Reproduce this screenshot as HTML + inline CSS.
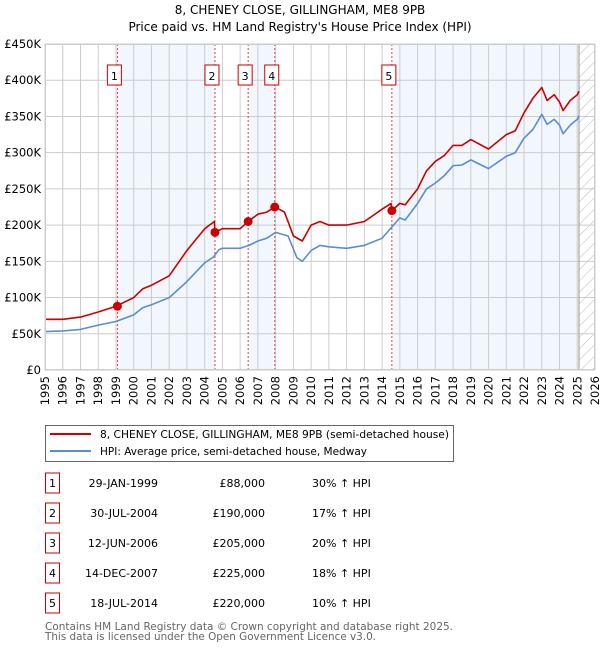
<!DOCTYPE html>
<html><head><meta charset="utf-8"><style>
body{margin:0;background:#fff;font-family:"DejaVu Sans","Liberation Sans",sans-serif;}
svg text{font-family:"DejaVu Sans","Liberation Sans",sans-serif;}
</style></head><body>
<svg id="chart" width="600" height="650" xmlns="http://www.w3.org/2000/svg">
<defs><pattern id="hatch" width="8" height="8" patternUnits="userSpaceOnUse" patternTransform="rotate(45)"><line x1="0" y1="0" x2="0" y2="8" stroke="#bbb" stroke-width="1"/></pattern></defs>
<text x="300" y="14" text-anchor="middle" font-size="12">8, CHENEY CLOSE, GILLINGHAM, ME8 9PB</text>
<text x="300" y="31" text-anchor="middle" font-size="12">Price paid vs. HM Land Registry's House Price Index (HPI)</text>
<g id="plot"></g>
<g>
<rect x="45.5" y="425.5" width="408" height="36" fill="#fff" stroke="#666"/>
<line x1="50" y1="434" x2="91" y2="434" stroke="#cc0000" stroke-width="2"/>
<text x="100" y="438" font-size="10.5" textLength="349" lengthAdjust="spacingAndGlyphs">8, CHENEY CLOSE, GILLINGHAM, ME8 9PB (semi-detached house)</text>
<line x1="50" y1="451" x2="91" y2="451" stroke="#5b8ed0" stroke-width="2"/>
<text x="100" y="455" font-size="10.5" textLength="267" lengthAdjust="spacingAndGlyphs">HPI: Average price, semi-detached house, Medway</text>
</g>
<g id="table"></g>
<text x="45" y="630" font-size="11" fill="#666" textLength="408" lengthAdjust="spacingAndGlyphs">Contains HM Land Registry data © Crown copyright and database right 2025.</text>
<text x="45" y="640" font-size="11" fill="#666" textLength="331" lengthAdjust="spacingAndGlyphs">This data is licensed under the Open Government Licence v3.0.</text>
</svg>
<script>
const yTicks=[0,50,100,150,200,250,300,350,400,450];
const yTickLabels=["£0","£50K","£100K","£150K","£200K","£250K","£300K","£350K","£400K","£450K"];
const xYears=[1995,1996,1997,1998,1999,2000,2001,2002,2003,2004,2005,2006,2007,2008,2009,2010,2011,2012,2013,2014,2015,2016,2017,2018,2019,2020,2021,2022,2023,2024,2025,2026];
const hpiT=[1995,1996,1997,1998,1999,2000,2000.5,2001,2002,2003,2004,2004.5,2004.8,2005,2006,2006.5,2007,2007.5,2008,2008.7,2009.2,2009.5,2010,2010.5,2011,2012,2013,2014,2014.5,2015,2015.3,2016,2016.5,2017,2017.5,2018,2018.5,2019,2020,2021,2021.5,2022,2022.5,2023,2023.3,2023.7,2024,2024.2,2024.6,2025,2025.1];
const hpiV=[53,54,56,62,67,76,86,90,100,122,148,156,166,168,168,172,178,182,190,185,155,150,165,172,170,168,172,182,196,210,207,230,250,258,268,282,283,290,278,295,300,320,332,353,339,346,338,326,338,346,351];
const priceT=[1995,1996,1997,1998,1999,2000,2000.5,2001,2002,2003,2004,2004.55,2004.58,2005,2006,2006.45,2007,2007.5,2007.95,2008.5,2009,2009.5,2010,2010.5,2011,2012,2013,2014,2014.5,2014.55,2015,2015.3,2016,2016.5,2017,2017.5,2018,2018.5,2019,2020,2021,2021.5,2022,2022.5,2023,2023.3,2023.7,2024,2024.2,2024.6,2025,2025.1];
const priceV=[70,70,73,80,88,100,112,117,130,165,195,205,190,195,195,205,215,218,225,218,185,178,200,205,200,200,205,222,230,220,230,228,250,275,288,296,310,310,318,305,325,330,355,375,390,372,380,370,358,372,380,385];
const saleLabels=["1","2","3","4","5"];
const saleT=[1999.08,2004.58,2006.45,2007.95,2014.55];
const saleV=[88,190,205,225,220];
const saleDates=["29-JAN-1999","30-JUL-2004","12-JUN-2006","14-DEC-2007","18-JUL-2014"];
const salePrices=["£88,000","£190,000","£205,000","£225,000","£220,000"];
const saleHpi=["30% ↑ HPI","17% ↑ HPI","20% ↑ HPI","18% ↑ HPI","10% ↑ HPI"];
const dataEnd=2025.1;

const X0=45,X1=595,Y0=370,Y1=44;
const x=t=>X0+(t-1995)/(2026-1995)*(X1-X0);
const y=v=>Y0-v/450*(Y0-Y1);
const NS="http://www.w3.org/2000/svg";
const plot=document.getElementById('plot');
function mk(tag,attrs,parent){const e=document.createElementNS(NS,tag);for(const k in attrs)e.setAttribute(k,attrs[k]);(parent||plot).appendChild(e);return e;}

mk('rect',{x:X0,y:Y1,width:X1-X0,height:Y0-Y1,fill:'#fff'});
for(let i=0;i<saleT.length;i+=2){
  const a=saleT[i],b=i+1<saleT.length?saleT[i+1]:dataEnd;
  const r=mk('rect',{x:x(a),y:Y1,width:x(b)-x(a),height:Y0-Y1,fill:'#f2f6fd'});
  
  
}
const hr=mk('rect',{x:x(dataEnd),y:Y1,width:X1-x(dataEnd),height:Y0-Y1,fill:'url(#hatch)'});


yTicks.forEach((v,i)=>{
  mk('line',{x1:X0,x2:X1,y1:y(v),y2:y(v),stroke:'#ccc','stroke-width':1});
  const t=mk('text',{x:X0-4,y:y(v)+4,'text-anchor':'end','font-size':11.5});
  t.textContent=yTickLabels[i];
  
  
});
xYears.forEach(yr=>{
  mk('line',{x1:x(yr),x2:x(yr),y1:Y1,y2:Y0,stroke:'#ccc','stroke-width':1});
  const t=mk('text',{x:0,y:0,'text-anchor':'end','font-size':11.5,transform:`translate(${x(yr)+4},${Y0+6}) rotate(-90)`});
  t.textContent=yr;
  
  
});
mk('line',{x1:x(dataEnd),x2:x(dataEnd),y1:Y1,y2:Y0,stroke:'#999','stroke-width':1});
saleT.forEach((t,i)=>{
  const l=mk('line',{x1:x(t),x2:x(t),y1:Y1,y2:Y0,stroke:'#e04040','stroke-width':1,'stroke-dasharray':'2,2'});
  
  
  const g=mk('g',{});
  
  
  mk('rect',{x:x(t)-10,y:65,width:14,height:20,fill:'#fff',stroke:'#cc0000'},g);
  const tx=mk('text',{x:x(t)-3,y:80,'text-anchor':'middle','font-size':11},g);
  tx.textContent=saleLabels[i];
});
function path(T,V,color,name){
  const d=T.map((t,i)=>(i?'L':'M')+x(t).toFixed(1)+','+y(V[i]).toFixed(1)).join('');
  const p=mk('path',{d:d,fill:'none',stroke:color,'stroke-width':1.6,'stroke-linejoin':'round'});
  
  
}
path(hpiT,hpiV,'#5b8ed0','hpi-line');
path(priceT,priceV,'#cc0000','price-line');
saleT.forEach((t,i)=>{
  const c=mk('circle',{cx:x(t),cy:y(saleV[i]),r:4.5,fill:'#cc0000'});
  
  
});
mk('rect',{x:X0+0.5,y:Y1+0.5,width:X1-X0-1,height:Y0-Y1-1,fill:'none',stroke:'#ccc'});
const tbl=document.getElementById('table');
const rowY=[483,513,543,573,603];
saleLabels.forEach((s,i)=>{
  const g=mk('g',{},tbl);
  
  
  mk('rect',{x:45.5,y:rowY[i]-10,width:14,height:20,fill:'#fff',stroke:'#cc0000'},g);
  const a=mk('text',{x:52.5,y:rowY[i]+4,'text-anchor':'middle','font-size':11},g);a.textContent=s;
  const b=mk('text',{x:158,y:rowY[i]+4,'text-anchor':'end','font-size':11},g);b.textContent=saleDates[i];
  const c=mk('text',{x:265,y:rowY[i]+4,'text-anchor':'end','font-size':11},g);c.textContent=salePrices[i];
  const d=mk('text',{x:312,y:rowY[i]+4,'font-size':11},g);d.textContent=saleHpi[i];
});
</script>
</body></html>
